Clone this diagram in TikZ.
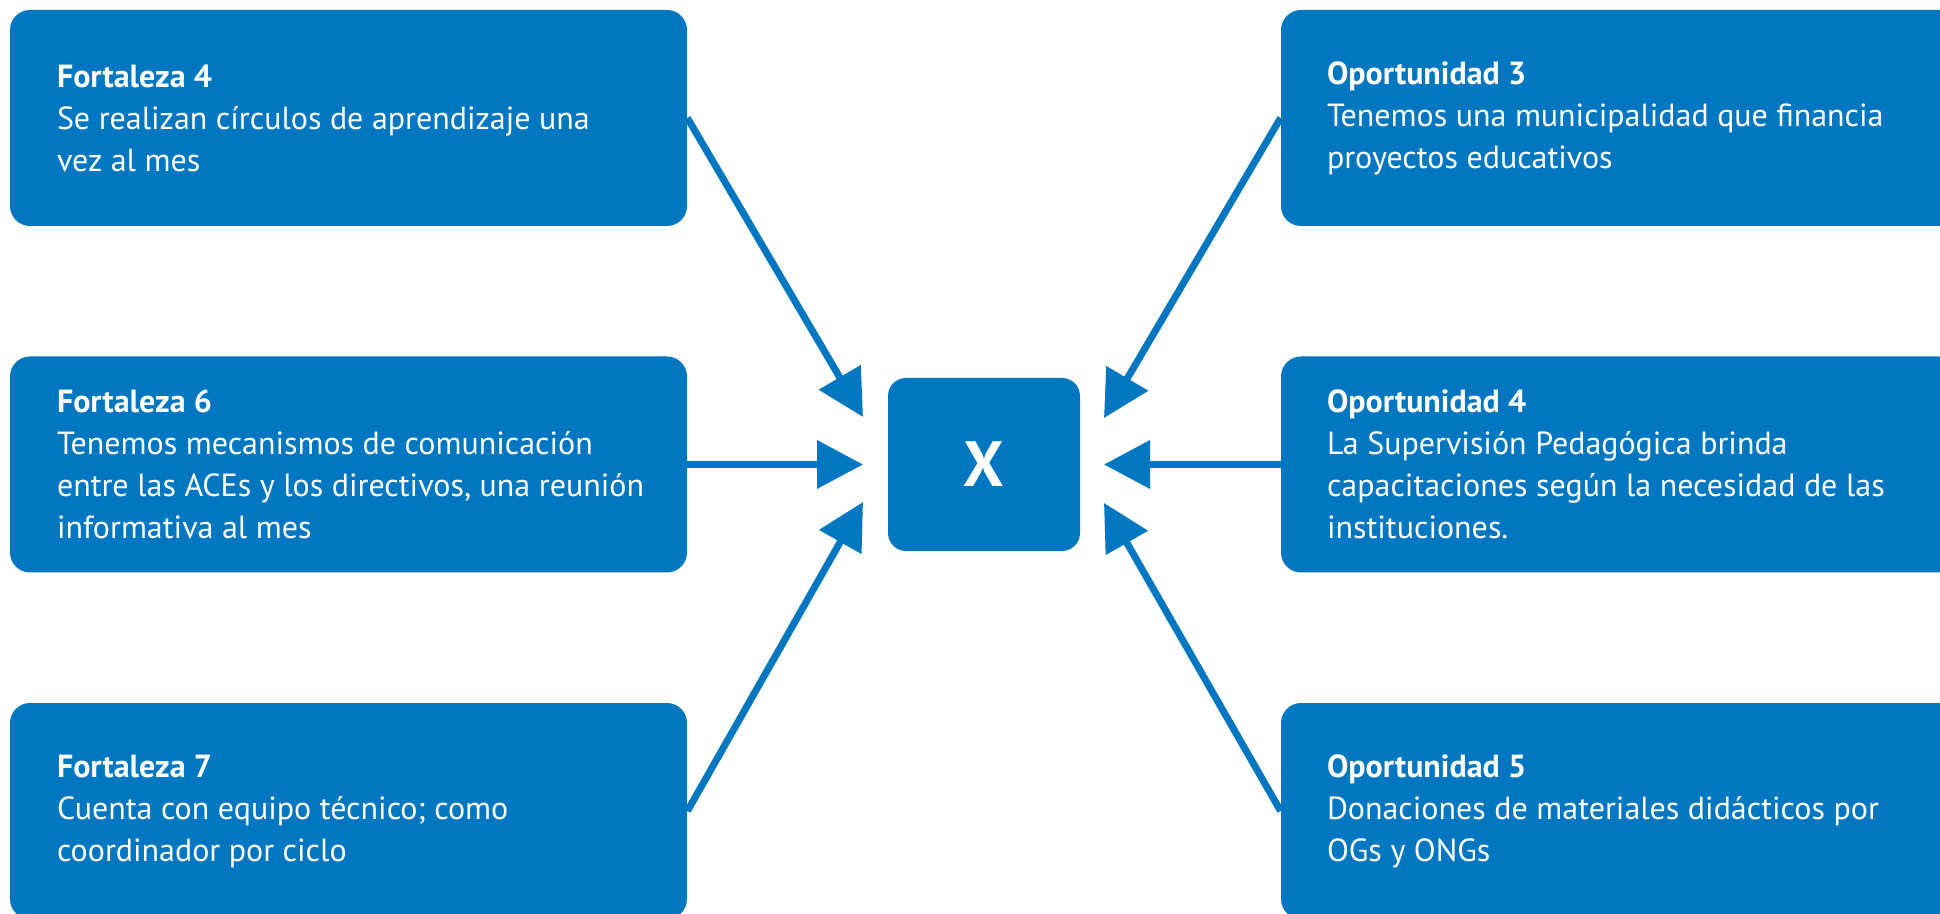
\documentclass[tikz,border=0pt]{standalone}
\usepackage{fontspec}
\setmainfont{PT Sans}
\usetikzlibrary{arrows.meta}
\definecolor{boxblue}{RGB}{0,119,192}
\newcommand\boxtitle[1]{{\bfseries #1}}
\begin{document}
\begin{tikzpicture}[x=0.5pt,y=-0.5pt,
  box/.style={fill=boxblue, draw=none, rounded corners=10pt, minimum width=338.5pt, minimum height=108pt, inner sep=0pt},
  centerbox/.style={fill=boxblue, draw=none, rounded corners=9pt, minimum width=96pt, minimum height=86.5pt, inner sep=0pt, text=white, font=\fontsize{32}{32}\selectfont\bfseries},
  txt/.style={text=white, align=left, inner sep=0pt, anchor=west, font=\fontsize{16}{21}\selectfont},
  conn/.style={draw=boxblue, line width=3.5pt, -{Triangle[length=23pt,width=23.5pt]}}
]
\useasboundingbox (0,0) rectangle (1940,914);
\clip (0,0) rectangle (1940,914);

% left boxes
\node[box] (f4) at (348.5,118) {};
\node[box] (f6) at (348.5,464.5) {};
\node[box] (f7) at (348.5,811) {};
% right boxes
\node[box] (o3) at (1619.5,118) {};
\node[box] (o4) at (1619.5,464.5) {};
\node[box] (o5) at (1619.5,811) {};
% center
\node[centerbox] (x) at (984,464.5) {X};

% texts
\node[txt] (f4t) at ([xshift=23.5pt]f4.west) {\boxtitle{Fortaleza 4}\\Se realizan círculos de aprendizaje una\\vez al mes};
\node[txt] (f6t) at ([xshift=23.5pt]f6.west) {\boxtitle{Fortaleza 6}\\Tenemos mecanismos de comunicación\\entre las ACEs y los directivos, una reunión\\informativa al mes};
\node[txt] (f7t) at ([xshift=23.5pt]f7.west) {\boxtitle{Fortaleza 7}\\Cuenta con equipo técnico; como\\coordinador por ciclo};
\node[txt] (o3t) at ([xshift=23pt]o3.west) {\boxtitle{Oportunidad 3}\\Tenemos una municipalidad que financia\\proyectos educativos};
\node[txt] (o4t) at ([xshift=23pt]o4.west) {\boxtitle{Oportunidad 4}\\La Supervisión Pedagógica brinda\\capacitaciones según la necesidad de las\\instituciones.};
\node[txt] (o5t) at ([xshift=23pt]o5.west) {\boxtitle{Oportunidad 5}\\Donaciones de materiales didácticos por\\OGs y ONGs};

% arrow tips
\coordinate (tl) at (863,417);
\coordinate (tm) at (863,464.5);
\coordinate (tb) at (863,502);
\coordinate (rl) at (1104,418);
\coordinate (rm) at (1104,464.5);
\coordinate (rb) at (1104,503);

\draw[conn] (f4.east) -- (tl);
\draw[conn] (f6.east) -- (tm);
\draw[conn] (f7.east) -- (tb);
\draw[conn] (o3.west) -- (rl);
\draw[conn] (o4.west) -- (rm);
\draw[conn] (o5.west) -- (rb);
\end{tikzpicture}
\end{document}
